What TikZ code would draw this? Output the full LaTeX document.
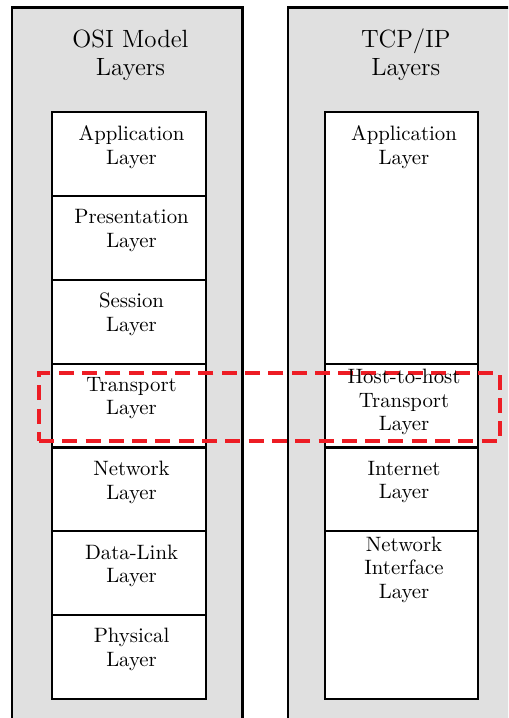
\documentclass[tikz,border=0pt]{standalone}
\usetikzlibrary{fit,calc}
\definecolor{panelgray}{RGB}{224,224,224}
\definecolor{markred}{RGB}{237,28,36}
\begin{document}
\begin{tikzpicture}[x=0.4808pt, y=-0.4808pt,
  panel/.style={draw=black, line width=1pt, fill=panelgray, inner sep=0pt},
  layerbox/.style={draw=black, line width=1pt, fill=white, inner sep=0pt},
  heading/.style={anchor=north, inner sep=0pt, align=center,
    font=\fontsize{12}{13.4}\selectfont},
  layertext/.style={anchor=north, inner sep=0pt, align=center,
    font=\fontsize{10}{11.4}\selectfont},
  focus/.style={draw=markred, line width=1.92pt,
    dash pattern=on 7.2pt off 4pt, inner sep=0pt}]

\clip (0,0) rectangle (508,718);

% the two grey panels
\node[panel, fit={(12,7.5)(242.5,740)}] (osi) {};
\node[panel, fit={(288.3,7.5)(520,740)}] (tcp) {};

% OSI stack
\node[layerbox, fit={(52,112.3)(205.7,196.1)}] (o-app) {};
\node[layerbox, fit={(52,196.1)(205.7,279.9)}] (o-pres) {};
\node[layerbox, fit={(52,279.9)(205.7,363.7)}] (o-sess) {};
\node[layerbox, fit={(52,363.7)(205.7,447.5)}] (o-trans) {};
\node[layerbox, fit={(52,447.5)(205.7,531.3)}] (o-net) {};
\node[layerbox, fit={(52,531.3)(205.7,615.1)}] (o-link) {};
\node[layerbox, fit={(52,615.1)(205.7,698.9)}] (o-phys) {};

% TCP/IP stack
\node[layerbox, fit={(325,112.3)(477.7,363.7)}] (t-app) {};
\node[layerbox, fit={(325,363.7)(477.7,447.5)}] (t-host) {};
\node[layerbox, fit={(325,447.5)(477.7,531.3)}] (t-inet) {};
\node[layerbox, fit={(325,531.3)(477.7,698.9)}] (t-nif) {};

% transport correspondence
\node[focus, fit={(39,373.3)(500,441)}] (transport-focus) {};

% headings
\node[heading] (osi-title) at (130.5,29.2) {OSI Model\\Layers};
\node[heading] (tcp-title) at (405.8,28) {TCP/IP\\Layers};

% layer labels
\node[layertext] (o-app-l)   at ($(o-app.north)+(2.7,14)$)   {Application\\Layer};
\node[layertext] (o-pres-l)  at ($(o-pres.north)+(2.7,14)$)  {Presentation\\Layer};
\node[layertext] (o-sess-l)  at ($(o-sess.north)+(2.7,14)$)  {Session\\Layer};
\node[layertext] (o-trans-l) at ($(o-trans.north)+(2.7,14)$) {Transport\\Layer};
\node[layertext] (o-net-l)   at ($(o-net.north)+(2.7,14)$)   {Network\\Layer};
\node[layertext] (o-link-l)  at ($(o-link.north)+(2.7,14)$)  {Data-Link\\Layer};
\node[layertext] (o-phys-l)  at ($(o-phys.north)+(2.7,14)$)  {Physical\\Layer};

\node[layertext] (t-app-l)  at ($(t-app.north)+(2.7,14)$)  {Application\\Layer};
\node[layertext] (t-host-l) at ($(t-host.north)+(2.7,6)$)  {Host-to-host\\Transport\\Layer};
\node[layertext] (t-inet-l) at ($(t-inet.north)+(2.7,14)$) {Internet\\Layer};
\node[layertext] (t-nif-l)  at ($(t-nif.north)+(2.7,6)$)   {Network\\Interface\\Layer};
\end{tikzpicture}
\end{document}
